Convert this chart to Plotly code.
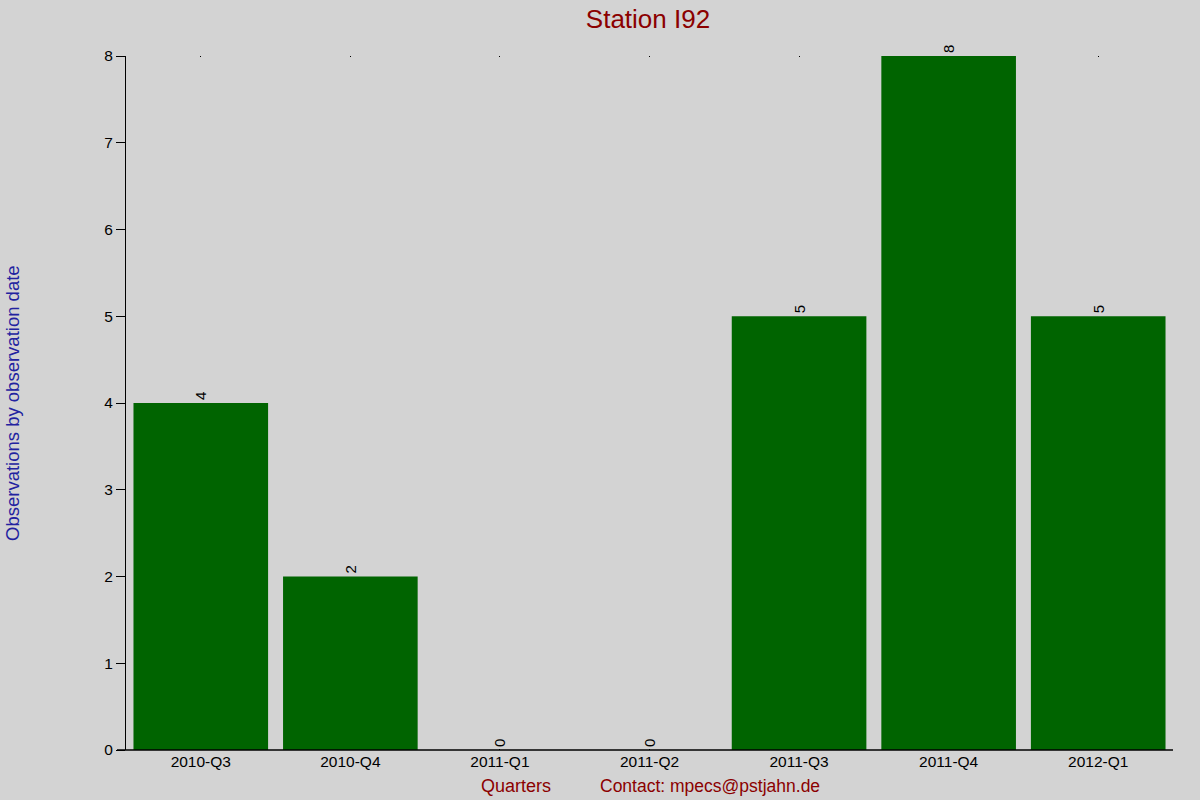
import plotly.graph_objects as go

# data
quarters = ["2010-Q3", "2010-Q4", "2011-Q1", "2011-Q2", "2011-Q3", "2011-Q4", "2012-Q1"]
observations = [4, 2, 0, 0, 5, 8, 5]
y_ticks = [0, 1, 2, 3, 4, 5, 6, 7, 8]

font = "Liberation Sans, Arial, sans-serif"

fig = go.Figure()
fig.add_trace(go.Bar(x=quarters, y=observations, marker=dict(color="#006400", line=dict(width=0)),
                     text=[str(v) for v in observations], textposition="outside", textangle=-90,
                     constraintext="none", textfont=dict(size=15, color="black", family=font),
                     cliponaxis=False))

fig.update_layout(
    width=1200, height=800,
    paper_bgcolor="#d3d3d3", plot_bgcolor="#d3d3d3",
    margin=dict(l=126, r=27, t=56, b=50),
    font=dict(family=font, size=15, color="black"),
    bargap=0.1, showlegend=False,
    title=dict(text="Station I92", x=0.54, xanchor="center", y=0.977, yanchor="middle",
               font=dict(size=26, color="#8b0000", family=font)),
    xaxis=dict(range=[-0.5, 6.5], showgrid=False, showline=False, ticks="inside", ticklen=1, tickwidth=1,
               tickcolor="black", mirror="ticks", layer="below traces", tickfont=dict(size=15.5)),
    yaxis=dict(range=[0, 8], tickvals=y_ticks, showgrid=False, showline=True, linecolor="black", linewidth=1,
               ticks="outside", ticklen=9, tickcolor="black", zeroline=False, tickfont=dict(size=15.5)),
)

# x axis line extends left past the y axis
fig.add_shape(type="line", xref="paper", yref="paper", x0=-9 / 1047, x1=1, y0=0, y1=0,
              line=dict(color="black", width=1.5))

fig.add_annotation(text="Observations by observation date", xref="paper", yref="paper",
                   x=-114 / 1047, y=0.5, textangle=-90, showarrow=False, xanchor="center",
                   font=dict(size=18.5, color="#2222a0", family=font))
fig.add_annotation(text="Quarters", xref="paper", yref="paper", x=(516 - 126) / 1047, y=-36 / 694,
                   showarrow=False, yanchor="middle", font=dict(size=18, color="#8b0000", family=font))
fig.add_annotation(text="Contact: mpecs@pstjahn.de", xref="paper", yref="paper", x=(710 - 126) / 1047,
                   y=-36 / 694, showarrow=False, yanchor="middle", font=dict(size=17.5, color="#8b0000", family=font))

# page body margin off so the figure sits at the window corner
fig.write_html("out.html", config={"displayModeBar": False},
               post_script="document.body.style.margin='0';")
